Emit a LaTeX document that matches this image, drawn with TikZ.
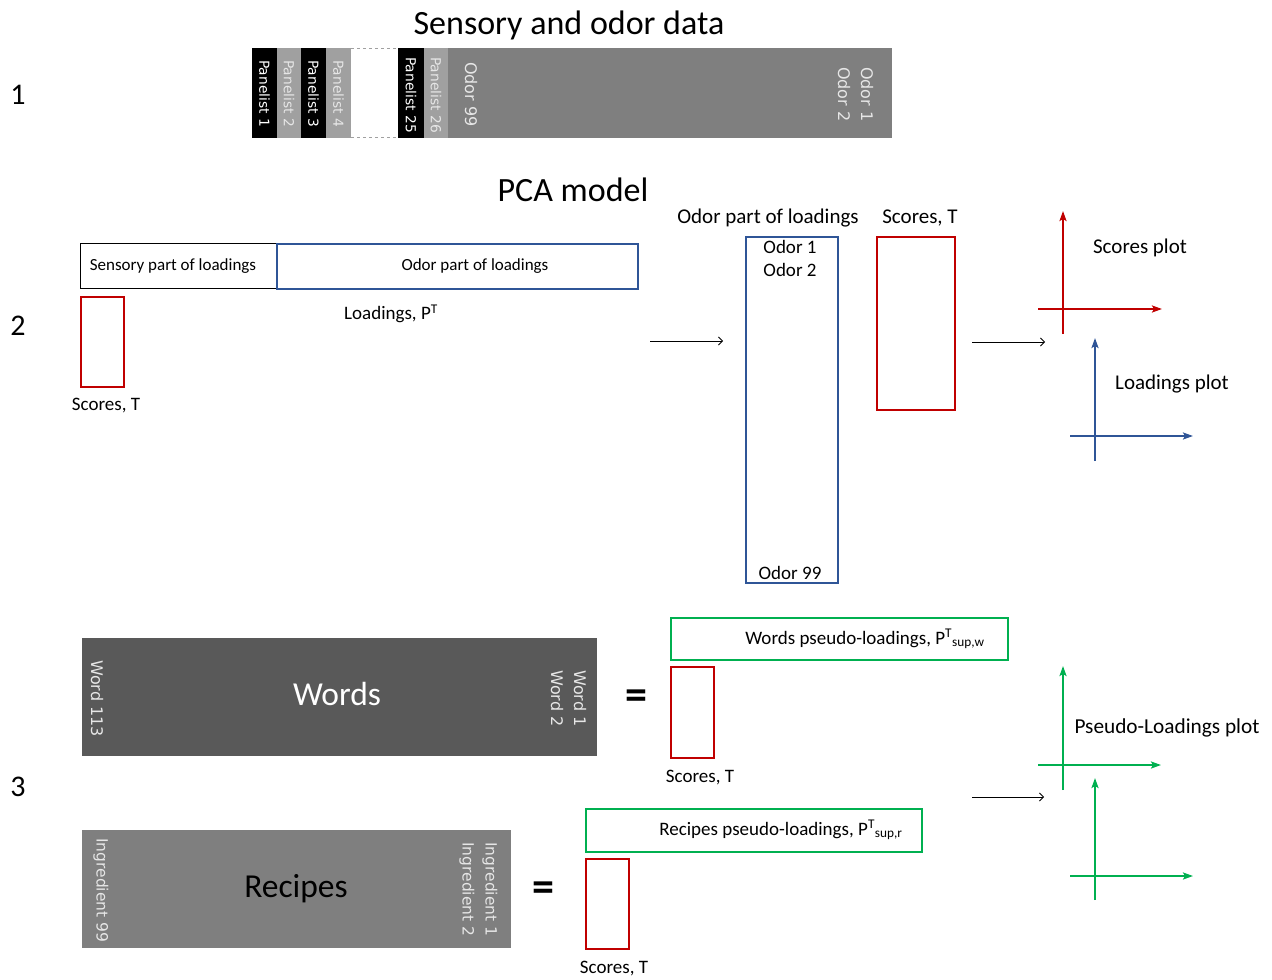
\documentclass[tikz,border=0pt]{standalone}
\usepackage{fontspec}
\setmainfont{Carlito}
\newfontfamily\dejavu{DejaVu Sans}
\usetikzlibrary{arrows.meta}
\definecolor{pred}{HTML}{C00000}
\definecolor{pblue}{HTML}{2F5597}
\definecolor{pgreen}{HTML}{00B050}
\definecolor{dgray}{HTML}{595959}
\definecolor{mgray}{HTML}{7F7F7F}
\definecolor{lgray}{HTML}{A0A0A0}
\definecolor{ltext}{HTML}{E6E6E6}
\begin{document}
\begin{tikzpicture}[x=1pt,y=-1pt,
  fs/.style={font=\fontsize{#1}{#1}\selectfont},
  lbl/.style={inner sep=0, fs=19},
  vtxt/.style={rotate=-90, anchor=west, inner sep=0, font=\dejavu\fontsize{#1}{#1}\selectfont},
  strip/.style={anchor=north west, inner sep=0, minimum height=90, draw=none},
  rbox/.style={draw=pred, line width=2, anchor=north west, inner sep=0},
  bbox/.style={draw=pblue, line width=2, anchor=north west, inner sep=0},
  gbox/.style={draw=pgreen, line width=2, anchor=north west, inner sep=0},
  thinarrow/.style={-{Straight Barb[length=4pt,width=8pt]}, line width=0.8},
  axis/.style={-{Stealth[length=10pt,width=7pt,inset=2pt]}, line width=2.4, draw=#1},
  eqs/.style={inner sep=0, font=\bfseries\fontsize{44}{44}\selectfont},
]
\useasboundingbox (0,0) rectangle (1272,980);

% ---------- numbers ----------
\node[fs=30,inner sep=0] (n1) at (18,95) {1};
\node[fs=30,inner sep=0] (n2) at (18,326) {2};
\node[fs=30,inner sep=0] (n3) at (18,787) {3};

% ---------- band 1 ----------
\node[fs=34,inner sep=0] (title1) at (569,25) {Sensory and odor data};
\node[strip, fill=black, minimum width=25] (p1) at (252,48) {};
\node[strip, fill=lgray, minimum width=24] (p2) at (277,48) {};
\node[strip, fill=black, minimum width=25] (p3) at (301,48) {};
\node[strip, fill=lgray, minimum width=25] (p4) at (326,48) {};
\node[strip, fill=black, minimum width=26] (p25) at (398,48) {};
\node[strip, fill=lgray, minimum width=24] (p26) at (424,48) {};
\node[strip, fill=mgray, minimum width=444] (odors) at (448,48) {};
\draw[lgray, dashed, line width=1] (351,48.5) -- (398,48.5) (351,137.5) -- (398,137.5);
\node[vtxt=13.8, text=white] (tp1) at (264.5,60) {Panelist 1};
\node[vtxt=13.8, text=ltext] (tp2) at (289,60) {Panelist 2};
\node[vtxt=13.8, text=white] (tp3) at (313.5,60) {Panelist 3};
\node[vtxt=13.8, text=ltext] (tp4) at (338.5,60) {Panelist 4};
\node[vtxt=13.8, text=white] (tp25) at (411,57) {Panelist 25};
\node[vtxt=13.8, text=ltext] (tp26) at (436,57) {Panelist 26};
\node[vtxt=16, text=ltext] (to99) at (471,62) {Odor 99};
\node[vtxt=16, text=ltext] (to1) at (867,67) {Odor 1};
\node[vtxt=16, text=ltext] (to2) at (844,67) {Odor 2};

% ---------- band 2 ----------
\node[fs=34,inner sep=0] (title2) at (573,190) {PCA model};
\node[draw=black, line width=0.8, anchor=north west, inner sep=0, minimum width=196, minimum height=45] (sens) at (80,243) {};
\node[fs=17,inner sep=0] at (173,266) {Sensory part of loadings};
\node[bbox, minimum width=361, minimum height=45] (odp) at (276,243) {};
\node[fs=17,inner sep=0] at (475,266) {Odor part of loadings};
\node[lbl] (ldl) at (391,314) {Loadings, P\textsuperscript{T}};
\node[rbox, minimum width=43, minimum height=90] (sc1) at (80,296) {};
\node[lbl] (sc1l) at (106,406) {Scores, T};

\coordinate (a1s) at (650,341);
\coordinate (a1e) at (723,341);
\draw[thinarrow] (a1s) -- (a1e);

\node[inner sep=0, fs=21] (odl) at (768,218) {Odor part of loadings};
\node[bbox, minimum width=92, minimum height=346] (odt) at (745,236) {};
\node[lbl] (o1) at (790,247) {Odor 1};
\node[lbl] (o2) at (790,270) {Odor 2};
\node[lbl] (o99) at (790,573) {Odor 99};
\node[inner sep=0, fs=21] (sc2l) at (920,218) {Scores, T};
\node[rbox, minimum width=78, minimum height=173] (sc2) at (876,236) {};

\coordinate (a2s) at (972,342);
\coordinate (a2e) at (1045,342);
\draw[thinarrow] (a2s) -- (a2e);

% scores plot
\coordinate (spy0) at (1063,334);
\coordinate (spy1) at (1063,211);
\coordinate (spx0) at (1038,309);
\coordinate (spx1) at (1162,309);
\draw[axis=pred] (spy0) -- (spy1);
\draw[axis=pred] (spx0) -- (spx1);
\node[inner sep=0, fs=21] (spl) at (1140,248) {Scores plot};
% loadings plot
\coordinate (lpy0) at (1095,461);
\coordinate (lpy1) at (1095,338);
\coordinate (lpx0) at (1070,436);
\coordinate (lpx1) at (1193,436);
\draw[axis=pblue] (lpy0) -- (lpy1);
\draw[axis=pblue] (lpx0) -- (lpx1);
\node[inner sep=0, fs=21] (lpl) at (1172,384) {Loadings plot};

% ---------- band 3 ----------
\node[anchor=north west, inner sep=0, fill=dgray, minimum width=515, minimum height=118] (words) at (82,638) {};
\node[inner sep=0, fs=33.5, text=white] at (337,694) {Words};
\node[vtxt=16, text=ltext] (tw113) at (97,660) {Word 113};
\node[vtxt=16, text=ltext] (tw1) at (580,670) {Word 1};
\node[vtxt=16, text=ltext] (tw2) at (557,670) {Word 2};
\node[eqs] (eq1) at (636,700) {=};

\node[gbox, minimum width=337, minimum height=42] (wpl) at (670,617) {};
\node[lbl] at (865,639) {Words pseudo-loadings, P\textsuperscript{T}\textsubscript{sup,w}};
\node[rbox, minimum width=43, minimum height=91] (sc3) at (670,666) {};
\node[lbl] (sc3l) at (700,778) {Scores, T};

\coordinate (a3s) at (972,797);
\coordinate (a3e) at (1044,797);
\draw[thinarrow] (a3s) -- (a3e);

\coordinate (g1y0) at (1063,790);
\coordinate (g1y1) at (1063,666);
\coordinate (g1x0) at (1038,765);
\coordinate (g1x1) at (1161,765);
\draw[axis=pgreen] (g1y0) -- (g1y1);
\draw[axis=pgreen] (g1x0) -- (g1x1);
\node[inner sep=0, fs=21.3] (pll) at (1167,728) {Pseudo-Loadings plot};
\coordinate (g2y0) at (1095,900);
\coordinate (g2y1) at (1095,778);
\coordinate (g2x0) at (1070,876);
\coordinate (g2x1) at (1193,876);
\draw[axis=pgreen] (g2y0) -- (g2y1);
\draw[axis=pgreen] (g2x0) -- (g2x1);

\node[anchor=north west, inner sep=0, fill=mgray, minimum width=429, minimum height=118] (recipes) at (82,830) {};
\node[inner sep=0, fs=33.5, text=black] at (296,889) {Recipes};
\node[vtxt=15.5, text=ltext] (ti99) at (101,838) {Ingredient 99};
\node[vtxt=15.5, text=ltext] (ti1) at (490,842) {Ingredient 1};
\node[vtxt=15.5, text=ltext] (ti2) at (467,842) {Ingredient 2};
\node[eqs] (eq2) at (543,892) {=};

\node[gbox, minimum width=336, minimum height=43] (rpl) at (585,808) {};
\node[lbl] at (781,830) {Recipes pseudo-loadings, P\textsuperscript{T}\textsubscript{sup,r}};
\node[rbox, minimum width=43, minimum height=90] (sc4) at (585,858) {};
\node[lbl] (sc4l) at (614,969) {Scores, T};
\end{tikzpicture}
\end{document}
